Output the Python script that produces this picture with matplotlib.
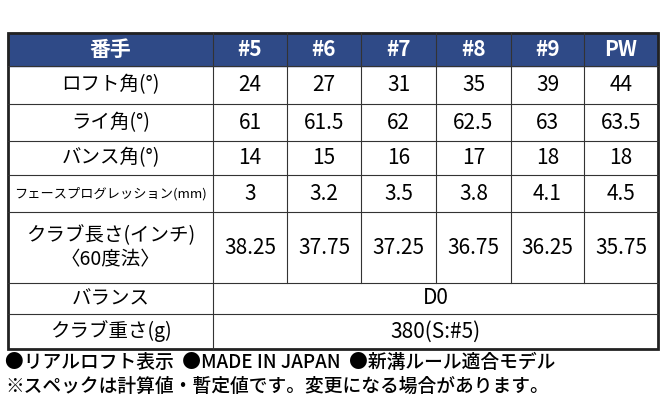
import matplotlib
matplotlib.use("Agg")
import matplotlib.pyplot as plt
from matplotlib.patches import Rectangle

plt.rcParams['font.family'] = ['Noto Sans CJK JP', 'DejaVu Sans']

header = ["番手", "#5", "#6", "#7", "#8", "#9", "PW"]
row_labels = ["ロフト角(°)", "ライ角(°)", "バンス角(°)", "フェースプログレッション(mm)",
              "クラブ長さ(インチ)\n〈60度法〉"]
loft = ["24", "27", "31", "35", "39", "44"]
lie = ["61", "61.5", "62", "62.5", "63", "63.5"]
bounce = ["14", "15", "16", "17", "18", "18"]
offset = ["3", "3.2", "3.5", "3.8", "4.1", "4.5"]
length = ["38.25", "37.75", "37.25", "36.75", "36.25", "35.75"]
merged_labels = ["バランス", "クラブ重さ(g)"]
merged_values = ["D0", "380(S:#5)"]
notes = ["●リアルロフト表示  ●MADE IN JAPAN  ●新溝ルール適合モデル",
         "※スペックは計算値・暫定値です。変更になる場合があります。"]

W, H = 664, 412
fig = plt.figure(figsize=(W/100, H/100), dpi=100)
ax = fig.add_axes([0, 0, 1, 1])
ax.set_xlim(0, W); ax.set_ylim(H, 0); ax.axis('off')

xs = [8, 213, 287, 361, 436, 511, 584, 658]
ys = [33, 66, 104, 141, 175, 212, 283, 314, 349]
navy = "#2f4a87"
ax.add_patch(Rectangle((xs[0], ys[0]), xs[-1]-xs[0], ys[1]-ys[0], color=navy, zorder=0))

for i, h in enumerate(header):
    ax.text((xs[i]+xs[i+1])/2, (ys[0]+ys[1])/2, h, color="white", fontsize=15,
            fontweight="bold", ha="center", va="center")

data = [loft, lie, bounce, offset, length]
for r, lab in enumerate(row_labels):
    yc = (ys[r+1]+ys[r+2])/2
    fs = 9.5 if r == 3 else 14
    ax.text((xs[0]+xs[1])/2, yc, lab, fontsize=fs, ha="center", va="center", linespacing=1.2)
    for c, v in enumerate(data[r]):
        ax.text((xs[c+1]+xs[c+2])/2, yc, v, fontsize=15, ha="center", va="center")
for k, (lab, v) in enumerate(zip(merged_labels, merged_values)):
    yc = (ys[6+k]+ys[7+k])/2
    ax.text((xs[0]+xs[1])/2, yc, lab, fontsize=14, ha="center", va="center")
    ax.text((xs[1]+xs[-1])/2, yc, v, fontsize=15, ha="center", va="center")

lc = "#333333"
for y in ys[1:-1]:
    ax.plot([xs[0], xs[-1]], [y, y], color=lc, lw=0.8)
for x in xs[1:-1]:
    if x == xs[1]:
        ax.plot([x, x], [ys[0], ys[-1]], color=lc, lw=0.8)
    else:
        ax.plot([x, x], [ys[0], ys[6]], color=lc, lw=0.8)
ax.add_patch(Rectangle((xs[0], ys[0]), xs[-1]-xs[0], ys[-1]-ys[0], fill=False,
                       edgecolor="#222222", lw=2))

ax.text(5, 362, notes[0], fontsize=13.5, fontweight="medium", ha="left", va="center")
ax.text(5, 386, notes[1], fontsize=13.5, fontweight="medium", ha="left", va="center")

fig.savefig("out.png", dpi=100)
